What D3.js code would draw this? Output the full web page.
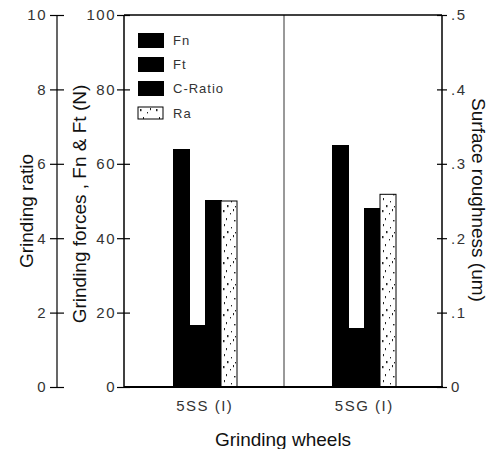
<!DOCTYPE html>
<html>
<head>
<meta charset="utf-8">
<script src="https://cdn.jsdelivr.net/npm/d3@7"></script>
<style>
  html, body { margin: 0; padding: 0; background: #fff; }
  svg { display: block; }
  text { font-family: "Liberation Sans", Arial, sans-serif; }
</style>
</head>
<body>
<svg id="chart" width="499" height="449"></svg>
<script>
// ---- data ----
const categories = ["5SS (I)", "5SG (I)"];
const seriesNames = ["Fn", "Ft", "C-Ratio", "Ra"];
const fnValues = [64, 65];          // N
const ftValues = [16.6, 15.9];      // N
const cRatioValues = [5.03, 4.81];  // grinding ratio
const raValues = [0.25, 0.259];     // um
const ratioTicks = [0, 2, 4, 6, 8, 10];
const forceTicks = [0, 20, 40, 60, 80, 100];
const roughTicks = [0, 0.1, 0.2, 0.3, 0.4, 0.5];
const roughTickLabels = ["0", ".1", ".2", ".3", ".4", ".5"];

const svg = d3.select("#chart");
const L = 124, R = 442, T = 15, B = 387;

// ---- scales ----
const yF = d3.scaleLinear().domain([0, 100]).range([B, T]);
const yG = d3.scaleLinear().domain([0, 10]).range([B, T]);
const yR = d3.scaleLinear().domain([0, 0.5]).range([B, T]);
const xC = d3.scalePoint().domain(categories).range([125, 444]).padding(0.5);
const xS = d3.scaleBand().domain(seriesNames).range([-32.5, 32.5]);

// ---- pattern for Ra ----
const defs = svg.append("defs");
const pat = defs.append("pattern").attr("id", "stipple")
  .attr("patternUnits", "userSpaceOnUse").attr("width", 16).attr("height", 26);
pat.append("rect").attr("width", 16).attr("height", 26).attr("fill", "#fff");
const dots = [[2,2],[9,5],[5,10],[13,12],[3,16],[10,19],[6,23],[14,24],[12,1]];
dots.forEach(([x, y], i) => {
  pat.append("rect").attr("x", x).attr("y", y)
    .attr("width", i % 3 === 0 ? 1.5 : 1).attr("height", i % 2 === 0 ? 2.2 : 1.4)
    .attr("fill", "#222");
});

// ---- bars ----
const rows = categories.map((c, i) => ({
  cat: c,
  vals: [
    { s: "Fn", y: yF(fnValues[i]) },
    { s: "Ft", y: yF(ftValues[i]) },
    { s: "C-Ratio", y: yG(cRatioValues[i]) },
    { s: "Ra", y: yR(raValues[i]) }
  ]
}));

const g = svg.append("g").selectAll("g").data(rows).join("g")
  .attr("transform", d => `translate(${Math.round(xC(d.cat))},0)`);
g.selectAll("rect").data(d => d.vals).join("rect")
  .attr("x", d => Math.round(xS(d.s)))
  .attr("width", d => d.s === "Ra" ? Math.round(xS.bandwidth()) : Math.round(xS.bandwidth()) + 1)
  .attr("y", d => d.y)
  .attr("height", d => B - d.y)
  .attr("fill", d => d.s === "Ra" ? "url(#stipple)" : "#000")
  .attr("stroke", d => d.s === "Ra" ? "#000" : "none")
  .attr("stroke-width", 1)
  .attr("shape-rendering", d => d.s === "Ra" ? null : "crispEdges");

// ---- frame ----
svg.append("line").attr("x1", L).attr("x2", R).attr("y1", T).attr("y2", T)
  .attr("stroke", "#000").attr("stroke-width", 1.5);
svg.append("line").attr("x1", L).attr("x2", R + 1).attr("y1", B).attr("y2", B)
  .attr("stroke", "#000").attr("stroke-width", 2);
svg.append("line").attr("x1", (L + R) / 2 + 1).attr("x2", (L + R) / 2 + 1).attr("y1", T).attr("y2", B)
  .attr("stroke", "#000").attr("stroke-width", 0.8);

function styleAxis(sel, inner, outer, textX, anchor) {
  sel.select(".domain").remove();
  sel.selectAll(".tick line").attr("x1", inner).attr("x2", outer)
    .attr("stroke", "#000").attr("stroke-width", 1.2);
  sel.selectAll(".tick text").attr("x", textX).attr("text-anchor", anchor)
    .attr("font-size", 15).attr("fill", "#333")
    .attr("font-family", "Liberation Sans, Arial, sans-serif")
    .style("letter-spacing", "1.5px");
}

// grinding ratio axis
const axG = svg.append("g").attr("transform", "translate(57,0)")
  .call(d3.axisLeft(yG).tickValues(ratioTicks).tickFormat(d3.format("d")));
styleAxis(axG, 7, -7, -10, "end");
svg.append("line").attr("x1", 57).attr("x2", 57).attr("y1", T).attr("y2", B)
  .attr("stroke", "#000").attr("stroke-width", 1.2);

// force axis
const axF = svg.append("g").attr("transform", `translate(${L},0)`)
  .call(d3.axisLeft(yF).tickValues(forceTicks).tickFormat(d3.format("d")));
styleAxis(axF, 6, -7, -8, "end");
svg.append("line").attr("x1", L).attr("x2", L).attr("y1", T).attr("y2", B)
  .attr("stroke", "#000").attr("stroke-width", 1.5);

// roughness axis
const axR = svg.append("g").attr("transform", `translate(${R},0)`)
  .call(d3.axisRight(yR).tickValues(roughTicks).tickFormat((d, i) => roughTickLabels[i]));
styleAxis(axR, -5, 5, 9, "start");
svg.append("line").attr("x1", R).attr("x2", R).attr("y1", T).attr("y2", B)
  .attr("stroke", "#000").attr("stroke-width", 1.5);

// category labels
svg.append("g").selectAll("text").data(categories).join("text")
  .attr("x", d => xC(d)).attr("y", 411)
  .attr("text-anchor", "middle").attr("font-size", 15).attr("fill", "#333")
  .style("letter-spacing", "1.5px")
  .text(d => d);

// ---- titles ----
svg.append("text").attr("x", 283).attr("y", 446).attr("text-anchor", "middle")
  .attr("font-size", 19).attr("fill", "#111").text("Grinding wheels");
svg.append("text").attr("transform", "translate(33,211) rotate(-90)")
  .attr("text-anchor", "middle").attr("font-size", 19).attr("fill", "#111")
  .text("Grinding ratio");
svg.append("text").attr("transform", "translate(86,204) rotate(-90)")
  .attr("text-anchor", "middle").attr("font-size", 19).attr("fill", "#111")
  .text("Grinding forces , Fn & Ft (N)");
svg.append("text").attr("transform", "translate(472,200) rotate(90)")
  .attr("text-anchor", "middle").attr("font-size", 19).attr("fill", "#111")
  .text("Surface roughness (um)");

// ---- legend ----
const legY = [33, 57, 81, 107];
const leg = svg.append("g").selectAll("g").data(seriesNames).join("g")
  .attr("transform", (d, i) => `translate(138,${legY[i]})`);
leg.append("rect")
  .attr("width", d => d === "Ra" ? 25 : 26)
  .attr("height", d => d === "Ra" ? 12 : 15)
  .attr("fill", d => d === "Ra" ? "url(#stipple)" : "#000")
  .attr("stroke", d => d === "Ra" ? "#000" : "none");
leg.append("text").attr("x", 35).attr("y", d => d === "Ra" ? 6 : 7.5)
  .attr("dy", "0.35em").attr("font-size", 13).attr("fill", "#333")
  .style("letter-spacing", "1px")
  .text(d => d);
</script>
</body>
</html>
